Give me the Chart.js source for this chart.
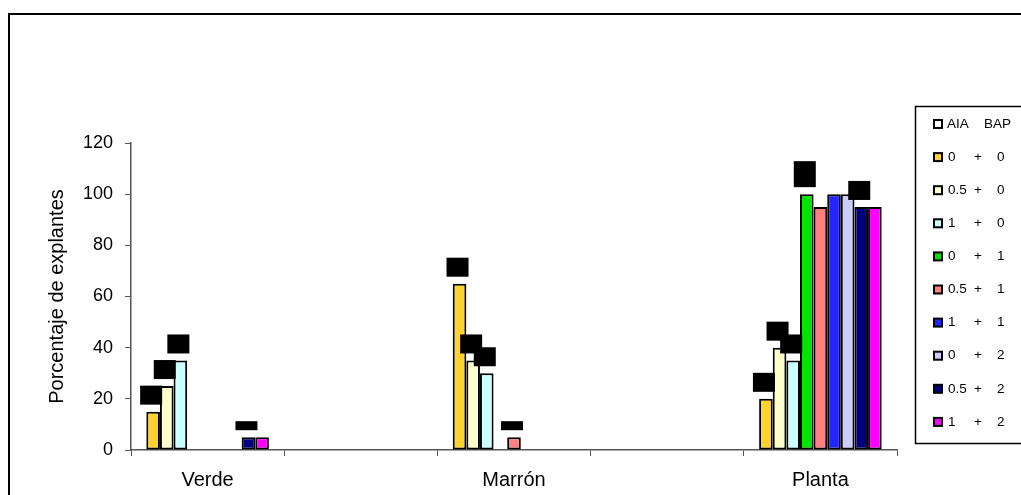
<!DOCTYPE html>
<html>
<head>
<meta charset="utf-8">
<script src="https://cdn.jsdelivr.net/npm/chart.js@4/dist/chart.umd.min.js"></script>
<style>
html, body { margin: 0; padding: 0; background: #fff; overflow: hidden; }
</style>
</head>
<body>
<canvas id="barchart" width="1021" height="495"></canvas>
<script>
'use strict';

// Data
var categories = ['Verde', '', 'Marrón', '', 'Planta'];
var aia = ['0', '0.5', '1', '0', '0.5', '1', '0', '0.5', '1'];
var bap = ['0', '0', '0', '1', '1', '1', '2', '2', '2'];
var yTicks = [0, 20, 40, 60, 80, 100, 120];

var s0 = [15, null, 65, null, 20];
var s1 = [25, null, 35, null, 40];
var s2 = [35, null, 30, null, 35];
var s3 = [0, null, 0, null, 100];
var s4 = [0, null, 5, null, 95];
var s5 = [0, null, 0, null, 100];
var s6 = [0, null, 0, null, 100];
var s7 = [5, null, 0, null, 95];
var s8 = [5, null, 0, null, 95];

// label marks above bars: '■' normal, '▬' short, '█' tall
var m0 = ['■', '', '■', '', '■'];
var m1 = ['■', '', '■', '', '■'];
var m2 = ['■', '', '■', '', '■'];
var m3 = ['', '', '', '', '█'];
var m4 = ['', '', '▬', '', ''];
var m5 = ['', '', '', '', ''];
var m6 = ['', '', '', '', ''];
var m7 = ['▬', '', '', '', '■'];
var m8 = ['', '', '', '', ''];

var values = [s0, s1, s2, s3, s4, s5, s6, s7, s8];
var marks = [m0, m1, m2, m3, m4, m5, m6, m7, m8];
var colors = ['#FFD22E', '#FFFFCC', '#CCFFFF', '#00E400', '#FF8080', '#2424FF', '#CCCCFF', '#000080', '#FF00FF'];

var font = '"Liberation Sans", Arial, sans-serif';

var extras = {
	id: 'extras',
	beforeDraw: function(chart) {
		var c = chart.ctx;
		c.save();
		c.fillStyle = '#fff';
		c.fillRect(0, 0, chart.width, chart.height);
		c.strokeStyle = '#000';
		c.lineWidth = 2;
		c.strokeRect(9, 14, chart.width + 20, chart.height + 20);
		c.restore();
	},
	afterDatasetsDraw: function(chart) {
		var c = chart.ctx;
		var h = { '■': 19, '▬': 9, '█': 26 };
		c.save();
		c.fillStyle = '#000';
		marks.forEach(function(row, i) {
			var meta = chart.getDatasetMeta(i);
			row.forEach(function(m, j) {
				if (!m) return;
				var bar = meta.data[j];
				c.fillRect(bar.x - 13, bar.y - 7 - h[m], 22, h[m]);
			});
		});
		c.restore();
	},
	afterDraw: function(chart) {
		var c = chart.ctx;
		c.save();
		c.strokeStyle = '#000';
		c.lineWidth = 1.5;
		c.fillStyle = '#fff';
		c.fillRect(915, 106, 200, 337);
		c.strokeRect(915.5, 106.5, 200, 337);
		c.font = '13.5px ' + font;
		c.textBaseline = 'middle';
		c.textAlign = 'left';
		var rowY = function(k) { return 124 + k * 33.1; };
		var square = function(y, fill) {
			c.fillStyle = fill;
			c.fillRect(934, y - 4, 8, 8);
			c.lineWidth = 2;
			c.strokeRect(934, y - 4, 8, 8);
		};
		square(rowY(0), '#fff');
		c.fillStyle = '#000';
		c.fillText('AIA', 947, rowY(0));
		c.fillText('BAP', 984, rowY(0));
		aia.forEach(function(a, i) {
			var y = rowY(i + 1);
			square(y, colors[i]);
			c.fillStyle = '#000';
			c.fillText(a, 948, y);
			var px = Math.max(948 + c.measureText(a).width + 1, 974);
			c.fillText('+', px, y);
			c.fillText(bap[i], 997, y);
		});
		c.restore();
	}
};

var ctx = document.getElementById('barchart');

var barChart = new Chart(ctx, {
	type: 'bar',
	data: {
		labels: categories,
		datasets: values.map(function(v, i) {
			return {
				label: aia[i] + ' + ' + bap[i],
				data: v,
				backgroundColor: colors[i],
				borderColor: '#000',
				borderWidth: 2,
				borderSkipped: false,
				categoryPercentage: 0.8,
				barPercentage: 1.0
			};
		})
	},
	options: {
		responsive: false,
		animation: false,
		layout: { padding: { left: 0, top: 143, right: 124, bottom: 0 } },
		plugins: {
			legend: { display: false },
			tooltip: { enabled: false }
		},
		scales: {
			x: {
				grid: { drawOnChartArea: false, tickLength: 6, color: '#555', offset: true },
				border: { color: '#555', width: 1.5 },
				ticks: {
					autoSkip: false,
					maxRotation: 0,
					padding: 12,
					color: '#000',
					font: { family: font, size: 20 }
				},
				afterFit: function(s) { s.height = 45; }
			},
			y: {
				min: 0,
				max: 120,
				afterBuildTicks: function(s) {
					s.ticks = yTicks.map(function(v) { return { value: v }; });
				},
				grid: { drawOnChartArea: false, tickLength: 6, color: '#555' },
				border: { color: '#555', width: 1.5 },
				ticks: {
					padding: 12,
					color: '#000',
					font: { family: font, size: 18 }
				},
				title: {
					display: true,
					text: 'Porcentaje de explantes',
					color: '#000',
					font: { family: font, size: 20 },
					padding: { top: 45, bottom: 0 }
				},
				afterFit: function(s) { s.width = 131; }
			}
		}
	},
	plugins: [extras]
});
</script>
</body>
</html>
